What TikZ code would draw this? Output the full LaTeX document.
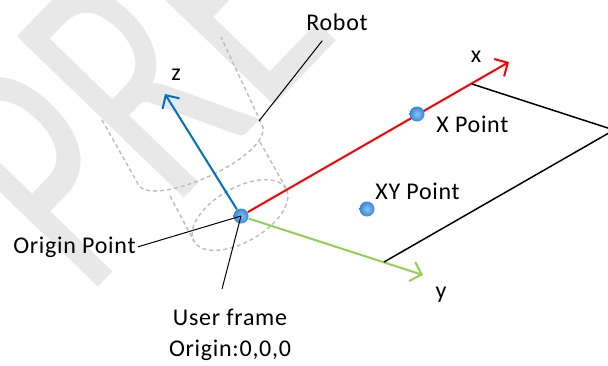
\documentclass[tikz,border=0pt]{standalone}
\usepackage{graphicx}
\usepackage{fontspec}
\setmainfont{Carlito}[LetterSpace=3.0]
\newfontfamily\wmfont{Carlito}
\usetikzlibrary{arrows.meta}
\definecolor{zblue}{RGB}{0,112,192}
\definecolor{xred}{RGB}{255,0,0}
\definecolor{ygreen}{RGB}{146,208,80}
\definecolor{dotlight}{RGB}{140,195,245}
\definecolor{dotblue}{RGB}{55,135,215}

\begin{document}
\begin{tikzpicture}[x=0.5pt,y=-0.5pt,>={Straight Barb[length=5pt,width=10pt]},
  axis/.style={->,line width=1pt},
  lead/.style={draw,line width=0.5pt},
  robotline/.style={draw=black!25,line width=0.75pt,dash pattern=on 2pt off 1.5pt},
  dot/.style={circle,inner sep=0pt,minimum size=7.5pt,shading=radial,inner color=dotlight,outer color=dotblue},
  lbl/.style={inner sep=1pt,font=\fontsize{12}{15.5}\selectfont}]
\useasboundingbox (0,0) rectangle (608,365);
% watermark in the back
\node[rotate=46,anchor=base west,text=black!9,inner sep=0pt,
  font=\wmfont\fontsize{181}{181}\selectfont] (wm) at (86,300) {\scalebox{0.66}[1]{PREVIEW}};
% robot outline
\draw[robotline] (102,120) -- (137,182) .. controls (145,212) and (268,160) .. (263,127) -- (221,37);
\draw[robotline] (170,196) -- (194,241);
\draw[robotline] (260,142) -- (286,188);
\draw[robotline,rotate around={30:(240,215)}] (240,215) ellipse [x radius=26.5pt,y radius=13.5pt];
% user frame axes
\node[dot] (o) at (241,216) {};
\coordinate (ztip) at (165,94);
\coordinate (xtip) at (509,62);
\coordinate (ytip) at (423,275);
\draw[axis,zblue] (o) -- (ztip);
\draw[axis,xred] (o) -- (xtip);
\draw[axis,ygreen] (o) -- (ytip);
\node[lbl] (zl) at (176,75) {z};
\node[lbl] (xl) at (476,57) {x};
\node[lbl] (yl) at (441,295) {y};
% xy plane
\coordinate (pa) at (472,84);
\coordinate (pc) at (614,130);
\coordinate (pb) at (384,262);
\draw[line width=0.75pt] (pa) -- (pc) -- (pb);
\node[dot] (xp) at (417,114) {};
\node[lbl,anchor=west] (xpl) at (434,124) {X Point};
\node[dot] (xyp) at (367,209) {};
\node[lbl,anchor=west] (xypl) at (373,191) {XY Point};
% labels with leaders
\node[lbl] (robot) at (337,22) {Robot};
\coordinate (robottip) at (259,121);
\draw[lead,shorten <=5pt] (robot) -- (robottip);
\node[lbl,anchor=base east] (opl) at (138,253) {Origin Point};
\draw[lead] (opl.east) -- (o.center);
\node[lbl,align=center,anchor=north] (uf) at (230,307) {User frame\\Origin:0,0,0};
\draw[lead] ([xshift=-4pt,yshift=9pt]uf.north) -- (o.center);
\end{tikzpicture}
\end{document}
